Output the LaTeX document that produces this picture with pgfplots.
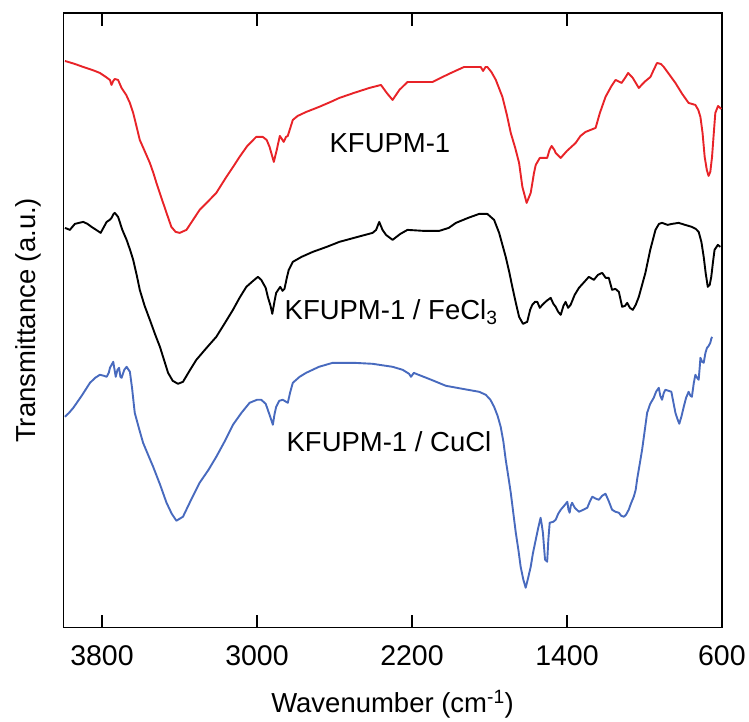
\documentclass[border=0pt]{standalone}
\usepackage{pgfplots}
\pgfplotsset{compat=1.18}
\usepackage{fontspec}
\setmainfont{Liberation Sans}
\definecolor{cred}{RGB}{232,35,40}
\definecolor{cblue}{RGB}{72,106,190}
\begin{document}
\begin{tikzpicture}
\begin{axis}[
  name=ax,
  scale only axis,
  width=659bp, height=615bp,
  x dir=reverse,
  xmin=600, xmax=4000, ymin=0, ymax=615,
  xtick={3800,3000,2200,1400,600},
  ytick=\empty,
  xtick pos=both,
  tick align=inside,
  major tick length=13bp,
  axis line style={line width=1.3bp},
  every tick/.style={line width=1.3bp, black},
  font=\fontsize{27.5bp}{33bp}\selectfont,
  /pgf/number format/assume math mode=true,
  /pgf/number format/set thousands separator={},
  xticklabel style={anchor=base, yshift=-38bp, font=\fontsize{28.5bp}{33bp}\selectfont},
  xlabel={Wavenumber (cm\textsuperscript{-1})},
  ylabel={Transmittance (a.u.)},
  xlabel style={at={(axis description cs:0.5,-0.1382)}, anchor=base},
  ylabel style={at={(axis description cs:-0.0425,0.5)}, anchor=base},
  clip=false,
  every axis plot/.append style={line width=1.9bp, line join=round},
]
\addplot[cred] coordinates {
(3991,567) (3940,564) (3897,561) (3850,558) (3811,555) (3780,551) (3759,548) (3751,543) (3742,547) (3734,549) (3717,548) (3699,540)
(3675,533) (3656,525) (3639,515) (3620,500) (3605,488) (3580,477) (3553,465) (3535,455) (3519,445) (3495,431) (3467,415) (3442,401) (3420,396) (3399,395)
(3364,398) (3330,408) (3296,418) (3250,427) (3210,435) (3158,451) (3120,462) (3090,471) (3050,482) (3004,491) (2970,491) (2950,488) (2935,481)
(2913,466) (2898,478) (2882,492) (2875,490) (2862,486) (2850,491) (2841,492) (2815,508) (2790,512) (2746,516) (2680,521) (2620,526) (2575,530)
(2500,535) (2420,540) (2380,542) (2360,543) (2330,535) (2300,528) (2265,538) (2223,546) (2150,546) (2094,546) (2010,554) (1931,561) (1845,561) (1833,557)
(1820,561) (1811,561) (1790,556) (1767,548) (1733,531) (1710,513) (1690,495) (1667,480) (1647,465) (1630,441) (1608,425) (1587,435)
(1570,455) (1561,463) (1540,470) (1502,470) (1490,478) (1479,482) (1465,478) (1458,475) (1432,470) (1400,477) (1355,485) (1330,492) (1304,496)
(1252,500) (1230,515) (1201,531) (1170,542) (1149,548) (1118,545) (1100,550) (1084,555) (1060,550) (1029,540) (1000,546) (969,551) (950,559) (935,565)
(915,564) (900,561) (870,553) (840,545) (805,534) (772,525) (737,523) (722,518) (711,511) (700,495) (689,471) (678,458) (669,452) (660,456) (651,471)
(640,500) (634,515) (620,522) (603,519)
};
\addplot[black] coordinates {
(3991,400) (3966,398) (3940,404) (3897,406) (3875,404) (3854,401) (3830,398) (3807,395) (3790,401) (3776,406) (3760,408) (3751,410)
(3740,414) (3734,415) (3717,411) (3695,398) (3673,388) (3655,378) (3639,368) (3620,352) (3605,338) (3580,322) (3553,308) (3525,293) (3501,281) (3480,268) (3459,255) (3435,247)
(3408,244) (3382,246) (3345,258) (3313,268) (3260,280) (3210,291) (3165,305) (3124,318) (3090,330) (3055,341) (3020,347) (2995,351) (2978,348)
(2955,340) (2944,331) (2930,322) (2921,314) (2910,326) (2901,335) (2880,341) (2868,337) (2858,339) (2846,350) (2836,358) (2815,366) (2770,371) (2712,376)
(2640,381) (2575,386) (2480,391) (2403,395) (2385,398) (2369,406) (2352,398) (2334,393) (2300,388) (2260,394) (2223,398) (2140,397) (2059,397) (2010,400) (1973,405)
(1910,410) (1853,414) (1811,414) (1776,408) (1750,395) (1733,383) (1716,371) (1698,356) (1682,341) (1665,326) (1647,311) (1627,304)
(1605,306) (1590,318) (1579,323) (1565,326) (1553,326) (1540,320) (1527,323) (1505,327) (1484,330) (1470,324) (1458,321) (1445,316) (1432,313) (1418,322) (1407,326)
(1394,320) (1381,323) (1360,333) (1338,340) (1310,346) (1287,351) (1261,348) (1240,353) (1218,355) (1200,350) (1184,350) (1167,338) (1150,339) (1132,336)
(1115,321) (1100,322) (1089,325) (1075,320) (1060,318) (1045,323) (1029,331) (1012,343) (995,355) (970,378) (943,398) (925,404) (909,405) (880,403) (858,404)
(823,405) (790,403) (755,401) (735,399) (720,396) (706,386) (694,371) (684,355) (673,341) (663,343) (655,351) (646,366) (638,378) (621,383) (608,381)
};
\addplot[cblue] coordinates {
(3991,211) (3970,215) (3948,220) (3905,232) (3862,245) (3835,250) (3811,253) (3790,252) (3776,251) (3765,255) (3759,260) (3742,266) (3729,251)
(3720,258) (3712,260) (3705,251) (3699,250) (3685,258) (3673,261) (3656,256) (3645,240) (3631,215) (3610,200) (3588,185) (3560,172) (3536,161) (3500,143) (3467,125) (3440,114)
(3416,107) (3382,111) (3340,128) (3296,145) (3250,158) (3210,171) (3165,187) (3124,203) (3080,215) (3038,225) (3000,228) (2978,228) (2955,224) (2944,218)
(2930,210) (2918,203) (2910,213) (2901,221) (2885,227) (2867,228) (2841,225) (2828,236) (2815,245) (2780,251) (2746,255) (2680,261) (2609,265) (2500,265) (2403,264)
(2369,263) (2300,261) (2248,258) (2215,254) (2205,251) (2190,255) (2179,254) (2100,248) (2025,242) (1940,239) (1853,236) (1819,233) (1795,228) (1776,221)
(1758,212) (1742,201) (1728,186) (1716,168) (1700,148) (1690,135) (1677,115) (1664,95) (1650,77) (1639,61) (1625,48) (1613,40) (1600,50) (1587,61) (1575,75) (1561,88)
(1548,100) (1536,110) (1530,103) (1524,95) (1518,80) (1513,68) (1502,66) (1496,88) (1489,105) (1470,106) (1458,108) (1445,114) (1432,118) (1410,123) (1398,126)
(1392,118) (1386,115) (1380,122) (1373,125) (1360,120) (1338,116) (1315,118) (1295,120) (1280,127) (1269,131) (1250,129) (1235,128) (1218,132) (1201,134) (1185,127) (1167,118)
(1150,116) (1132,115) (1120,112) (1106,111) (1095,113) (1081,118) (1070,124) (1055,131) (1045,138) (1038,148) (1025,163) (1012,178) (1000,195) (986,215) (970,224) (952,230)
(940,236) (926,240) (918,232) (909,228) (900,235) (892,238) (875,237) (861,236) (850,225) (840,215) (830,209) (820,204) (808,212) (797,221) (785,230) (772,236)
(762,232) (755,231) (745,245) (737,253) (728,250) (720,248) (714,262) (711,270) (702,266) (694,265) (685,275) (677,280) (668,282) (660,285) (655,289) (651,291)
};
\node[anchor=base west, inner sep=0pt] at (axis cs:2626,475) {KFUPM-1};
\node[anchor=base west, inner sep=0pt] at (axis cs:2858,308) {KFUPM-1 / FeCl\textsubscript{3}};
\node[anchor=base west, inner sep=0pt] at (axis cs:2848,176) {KFUPM-1 / CuCl};
\end{axis}
\path ([shift={(-63.3bp,-94bp)}]ax.south west) rectangle ([shift={(26.7bp,13bp)}]ax.north east);
\end{tikzpicture}
\end{document}
